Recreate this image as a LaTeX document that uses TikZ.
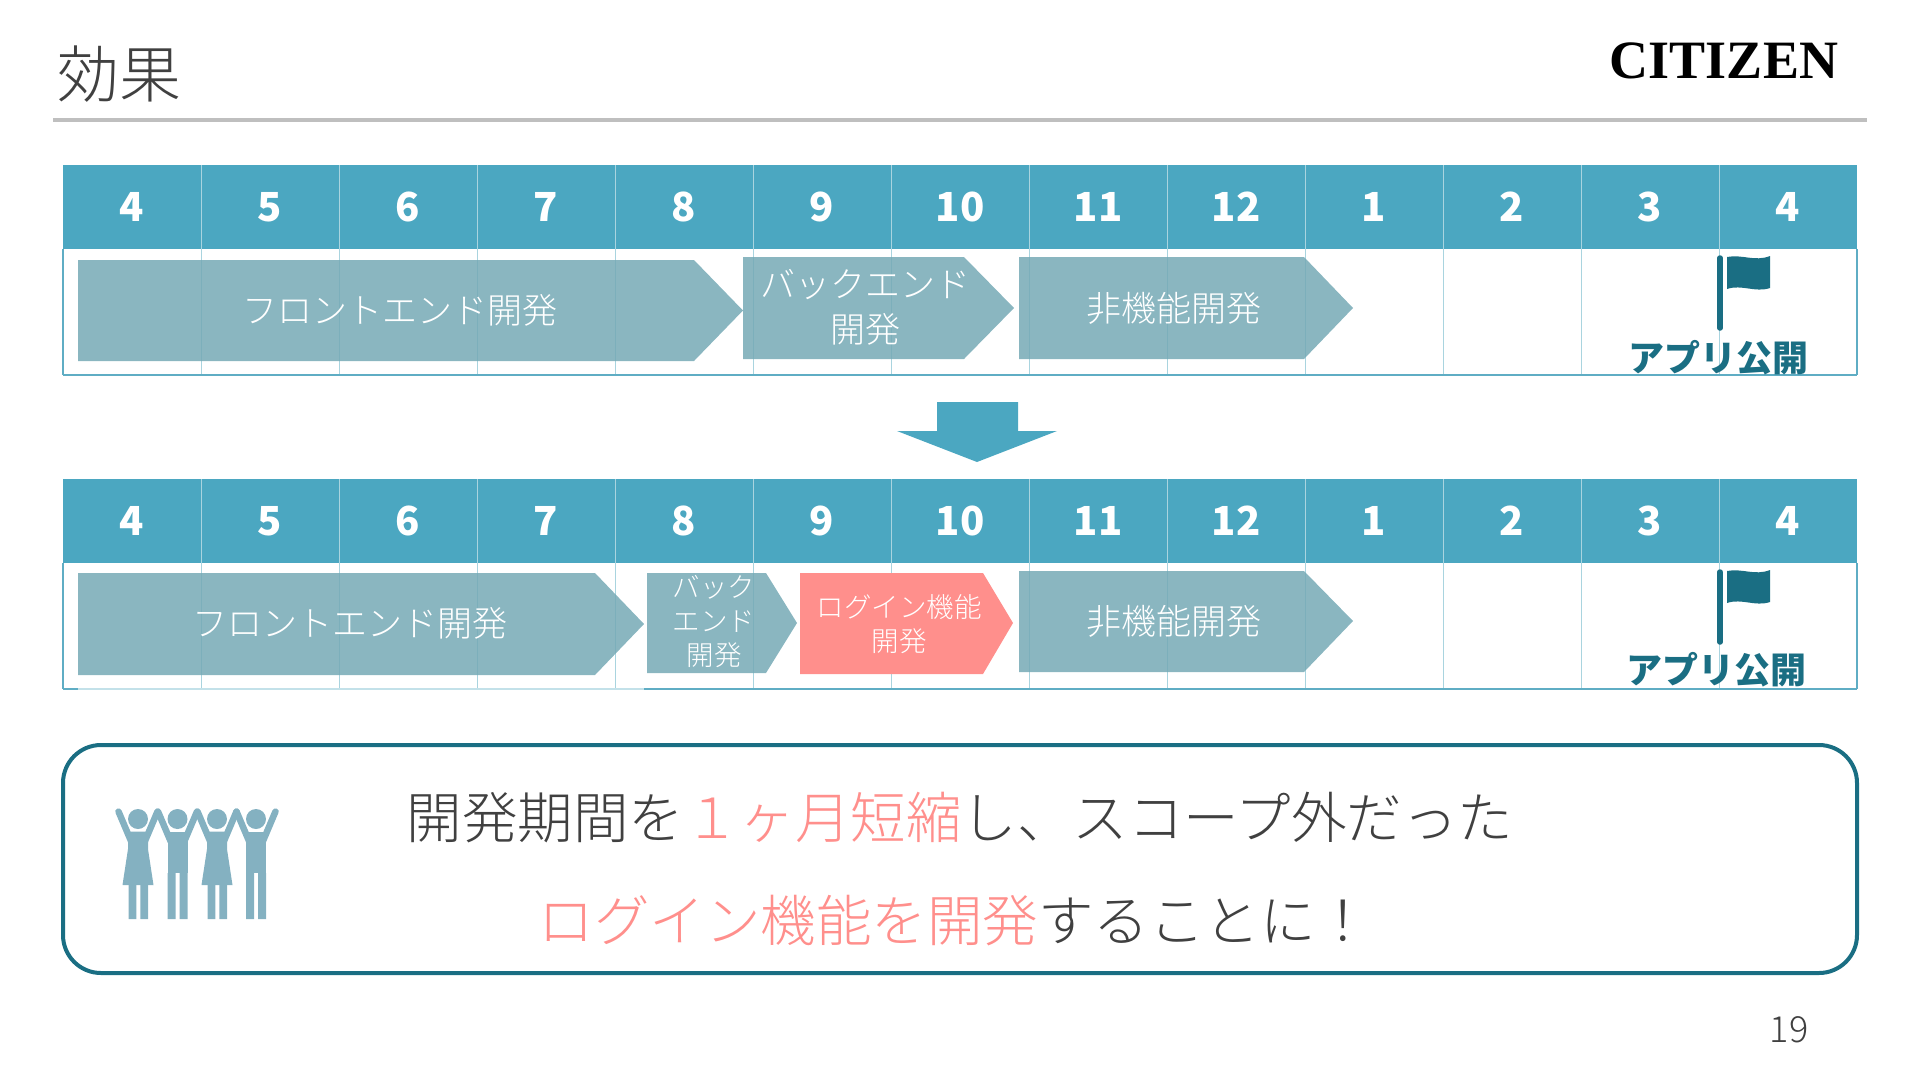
\documentclass[tikz,border=0pt]{standalone}
\usepackage{fontspec}
\usepackage{xcolor}
\usetikzlibrary{positioning}
\setmainfont{Noto Sans CJK JP}
\newfontfamily\jplight{Noto Sans CJK JP Light}
\newfontfamily\logofont{Liberation Serif}
\definecolor{HeadTeal}{HTML}{4BA7C1}
\definecolor{GridTeal}{HTML}{A9D4DF}
\definecolor{EdgeTeal}{HTML}{5FADC4}
\definecolor{DeepTeal}{HTML}{1A6E83}
\definecolor{BarTeal}{HTML}{75A9B5}
\definecolor{PeopleTeal}{HTML}{84B1C1}
\definecolor{LoginPink}{HTML}{FF8F8C}
\definecolor{RuleGray}{HTML}{BFBFBF}
\definecolor{InkGray}{HTML}{404040}
\tikzset{
    monthcell/.style={
        fill=HeadTeal,
        minimum width=138pt,
        minimum height=84pt,
        inner sep=0pt,
        text=white,
        font=\fontsize{40}{40}\selectfont\bfseries
    },
    devbar/.style={
        fill=BarTeal,
        fill opacity=0.85
    },
    loginbar/.style={
        fill=LoginPink
    },
    barlabel/.style={
        text=white,
        align=center,
        inner sep=0pt,
        font=\fontsize{35}{45}\selectfont\jplight
    },
    smalllabel/.style={
        barlabel,
        font=\fontsize{27.5}{34}\selectfont\jplight
    },
    releaselabel/.style={
        text=DeepTeal,
        inner sep=0pt,
        font=\fontsize{36}{36}\selectfont\bfseries
    },
    msgline/.style={
        text=InkGray,
        inner sep=0pt,
        font=\fontsize{55.5}{55.5}\selectfont\jplight
    },
    woman/.pic={
        \fill[PeopleTeal] (0,0) circle (10);
        \draw[PeopleTeal, line width=6.5pt, line cap=round] (-19.5,-7.5) -- (-7,22) (19.5,-7.5) -- (7,22);
        \fill[PeopleTeal] (-10,12.5) -- (10,12.5) -- (10,30) -- (15.5,66) -- (-15.5,66) -- (-10,30) -- cycle;
        \fill[PeopleTeal] (-9.5,66) rectangle (-1.7,100) (2.3,66) rectangle (10,100);
    },
    man/.pic={
        \fill[PeopleTeal] (0,0) circle (10);
        \draw[PeopleTeal, line width=6.5pt, line cap=round] (-19.5,-7.5) -- (-7,22) (19.5,-7.5) -- (7,22);
        \fill[PeopleTeal] (-10,12.5) rectangle (10,54);
        \fill[PeopleTeal] (-10,54) rectangle (-2,100) (2,54) rectangle (10,100);
    }
}
\begin{document}
\begin{tikzpicture}[x=1pt,y=-1pt]
    \useasboundingbox (0,0) rectangle (1920,1080);

    % Title and logo
    \node[inner sep=0pt, text=InkGray, font=\fontsize{62}{62}\selectfont\jplight] (title) at (119,74) {効果};
    \node[inner sep=0pt, text=black, font=\fontsize{54}{54}\selectfont\logofont\bfseries] (logo) at (1724,61) {CITIZEN};
    \draw[RuleGray, line width=4pt] (53,120) -- (1867,120);

    % Month tables
    \foreach \tbl/\off in {a/0,b/314}{
        \foreach \m [count=\i] in {4,5,6,7,8,9,10,11,12,1,2,3,4}{
            \node[monthcell] (\tbl\i) at ({132+138*(\i-1)},207+\off) {\m};
        }
        \foreach \i in {1,...,12}{
            \draw[GridTeal, line width=1pt] ({63+138*\i},165+\off) -- ({63+138*\i},375+\off);
        }
        \draw[EdgeTeal, line width=1.5pt] (63,249+\off) -- (63,375+\off);
        \draw[EdgeTeal, line width=1.5pt] (1857,249+\off) -- (1857,375+\off);
    }
    \draw[EdgeTeal, line width=1.5pt] (63,375) -- (1857,375);
    \draw[GridTeal!70, line width=1.5pt] (63,689) -- (644,689);
    \draw[EdgeTeal, line width=1.5pt] (63,689) -- (78,689);
    \draw[EdgeTeal, line width=1.5pt] (644,689) -- (1857,689);

    % Arrow between tables
    \fill[HeadTeal] (937,402) -- (1018,402) -- (1018,431) -- (1057,431) -- (977,462) -- (897,431) -- (937,431) -- cycle;

    % Plan before
    \fill[devbar] (78,260) -- (694,260) -- (743,310.5) -- (694,361) -- (78,361) -- cycle;
    \fill[devbar] (743,257) -- (964,257) -- (1014,308) -- (964,359) -- (743,359) -- cycle;
    \fill[devbar] (1019,257) -- (1304,257) -- (1353,308) -- (1304,359) -- (1019,359) -- cycle;
    \node[barlabel] (fronta) at (400,310) {フロントエンド開発};
    \node[barlabel] (backa) at (865,307) {バックエンド\\開発};
    \node[barlabel] (nonfunca) at (1174,308) {非機能開発};

    % Plan after
    \fill[devbar] (78,573) -- (595,573) -- (644,624) -- (595,675) -- (78,675) -- cycle;
    \fill[devbar] (647,573) -- (766,573) -- (797,623) -- (766,673) -- (647,673) -- cycle;
    \fill[loginbar] (800,573) -- (983,573) -- (1013,623) -- (983,674) -- (800,674) -- cycle;
    \fill[devbar] (1019,571) -- (1304,571) -- (1353,621) -- (1304,672) -- (1019,672) -- cycle;
    \node[barlabel] (frontb) at (350,623) {フロントエンド開発};
    \node[smalllabel] (backb) at (714,622) {バック\\エンド\\開発};
    \node[smalllabel] (loginb) at (899,624) {ログイン機能\\開発};
    \node[barlabel] (nonfuncb) at (1174,621) {非機能開発};

    % Release flags
    \foreach \off in {0,314}{
        \draw[DeepTeal, line width=5.5pt, line cap=round] (1720,258+\off) -- (1720,328+\off);
        \fill[DeepTeal] (1727,257+\off) .. controls (1742,254+\off) and (1755,262+\off) .. (1770,256+\off)
            -- (1770,288+\off) .. controls (1755,293+\off) and (1742,284+\off) .. (1727,289+\off) -- cycle;
    }
    \node[releaselabel] (releasea) at (1718,358) {アプリ公開};
    \node[releaselabel] (releaseb) at (1716,670) {アプリ公開};

    % Message box
    \node[draw=DeepTeal, line width=4pt, rounded corners=38pt, minimum width=1794pt, minimum height=228pt] (msgbox) at (960,859) {};
    \node[msgline] (msga) at (960,818) {開発期間を\textcolor{LoginPink}{１ヶ月短縮}し、スコープ外だった};
    \node[msgline] (msgb) at (955,921) {\textcolor{LoginPink}{ログイン機能を開発}することに！};

    % People
    \pic at (138,819) {woman};
    \pic at (177.5,819) {man};
    \pic at (217,819) {woman};
    \pic at (256,819) {man};

    % Page number
    \node[inner sep=0pt, text=InkGray, font=\fontsize{36}{36}\selectfont\jplight] (page) at (1789,1030) {19};
\end{tikzpicture}
\end{document}
